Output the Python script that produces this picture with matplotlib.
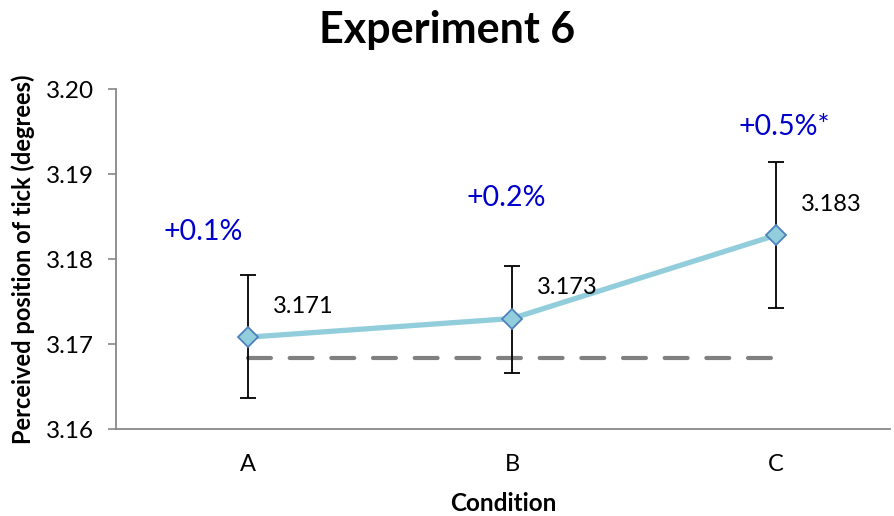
import matplotlib
matplotlib.use("Agg")
import matplotlib.pyplot as plt

plt.rcParams['font.family'] = ['Lato', 'DejaVu Sans']

conditions = ['A', 'B', 'C']
means = [3.1708, 3.1730, 3.1828]
err_low = [3.1636, 3.1666, 3.1742]
err_high = [3.1781, 3.1792, 3.1914]
baseline = 3.1683
value_labels = ['3.171', '3.173', '3.183']
pct_labels = ['+0.1%', '+0.2%', '+0.5%*']

x = list(range(len(conditions)))
yerr = [[m - lo for m, lo in zip(means, err_low)],
        [hi - m for m, hi in zip(means, err_high)]]

fig = plt.figure(figsize=(8.95, 5.16), dpi=100)
ax = fig.add_axes([0.1296, 0.1686, 0.8648, 0.6589])

# baseline dashed
ax.plot([x[0], x[-1]], [baseline, baseline], color='#808080', lw=3,
        dashes=(5.5, 4.5), dash_capstyle='round', zorder=1)

ax.errorbar(x, means, yerr=yerr, fmt='none', ecolor='black', elinewidth=1.3,
            capsize=5.5, capthick=1.3, zorder=2)
ax.plot(x, means, color='#92CDDC', lw=3.8, zorder=3)
ax.plot(x, means, ls='none', marker='D', ms=10, mfc='#92CDDC', mec='#4F81BD',
        mew=1.3, zorder=4)

for xi, m, lab in zip(x, means, value_labels):
    ax.annotate(lab, (xi, m), xytext=(40, 22), textcoords='offset points',
                ha='center', va='center', fontsize=17, color='black')

pct_pos = [(-0.17, 3.1832), (0.98, 3.1872), (2.03, 3.1955)]
for (px, py), lab in zip(pct_pos, pct_labels):
    ax.text(px, py, lab, ha='center', va='center', fontsize=20.5, color='#0000CC')

ax.set_xlim(-0.5, 2.432)
ax.set_ylim(3.16, 3.20)
ax.set_yticks([3.16, 3.17, 3.18, 3.19, 3.20])
ax.set_yticklabels(['3.16', '3.17', '3.18', '3.19', '3.20'], fontsize=17.5)
ax.set_xticks(x)
ax.set_xticklabels(conditions, fontsize=17)
ax.tick_params(axis='x', length=0, pad=18)
ax.tick_params(axis='y', length=6, width=1.2, color='#888888', pad=10)

for s in ['top', 'right']:
    ax.spines[s].set_visible(False)
for s in ['left', 'bottom']:
    ax.spines[s].set_color('#888888')
    ax.spines[s].set_linewidth(1.3)

ax.set_xlabel('Condition', fontsize=17.5, fontweight='bold', labelpad=12)
ax.set_ylabel('Perceived position of tick (degrees)', fontsize=17,
              fontweight='bold', labelpad=8)
fig.suptitle('Experiment 6', fontsize=31, fontweight='bold', y=0.98, va='top')

fig.savefig('out.png', dpi=100)
